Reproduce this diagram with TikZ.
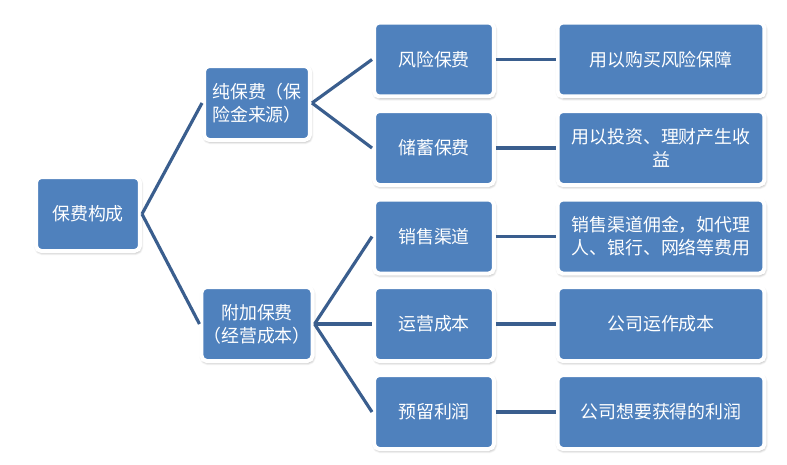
\documentclass[tikz,border=0pt]{standalone}
\usepackage{fontspec}
\setmainfont{Noto Sans CJK SC}
\usepackage{tikz}
\usetikzlibrary{arrows.meta,positioning,shadows.blur}
\definecolor{feeblue}{HTML}{4F81BD}
\definecolor{feeline}{HTML}{3A5E8E}
\tikzset{
  fee/box/.style={draw=white, line width=0.08cm, rounded corners=3pt, fill=feeblue,
    text=white, align=center, font=\fontsize{10.2}{13}\selectfont, inner sep=1pt,
    minimum height=1.48cm,
    blur shadow={shadow blur steps=6, shadow blur radius=1.6pt, shadow xshift=0.4pt,
      shadow yshift=-0.9pt, shadow opacity=45}},
  fee/root/.style={fee/box, minimum width=2.08cm},
  fee/part/.style={fee/box, minimum width=2.12cm},
  fee/item/.style={fee/box, minimum width=2.4cm},
  fee/note/.style={fee/box, minimum width=4.14cm},
  fee/line/.style={draw=feeline, line width=1.8pt}
}

\begin{document}
\begin{tikzpicture}[x=0.02cm, y=-0.02cm]
  \useasboundingbox (0,0) rectangle (787,464);

  % levels: root, parts, items, notes
  \node[fee/root] (root) at (88,214) {保费构成};
  \node[fee/part] (pure) at (257,103) {纯保费（保\\险金来源）};
  \node[fee/part] (extra) at (257,324) {附加保费\\（经营成本）};

  \node[fee/item] (risk) at (434,59.5) {风险保费};
  \node[fee/item] (saving) at (434,148) {储蓄保费};
  \node[fee/item] (sales) at (434,236.5) {销售渠道};
  \node[fee/item] (ops) at (434,324) {运营成本};
  \node[fee/item] (profit) at (434,412) {预留利润};

  \node[fee/note] (riskd) at (661,59.5) {用以购买风险保障};
  \node[fee/note] (savingd) at (661,148) {用以投资、理财产生收\\益};
  \node[fee/note] (salesd) at (661,236.5) {销售渠道佣金，如代理\\人、银行、网络等费用};
  \node[fee/note] (opsd) at (661,324) {公司运作成本};
  \node[fee/note] (profitd) at (661,412) {公司想要获得的利润};

  \draw[fee/line] (root.east) -- (pure.west);
  \draw[fee/line] (root.east) -- (extra.west);
  \foreach \a in {risk,saving}
    \draw[fee/line] (pure.east) -- (\a.west);
  \foreach \a in {sales,ops,profit}
    \draw[fee/line] (extra.east) -- (\a.west);
  \foreach \a in {risk,saving,sales,ops,profit}
    \draw[fee/line, line width=2.2pt] (\a.east) -- (\a d.west);
\end{tikzpicture}
\end{document}
